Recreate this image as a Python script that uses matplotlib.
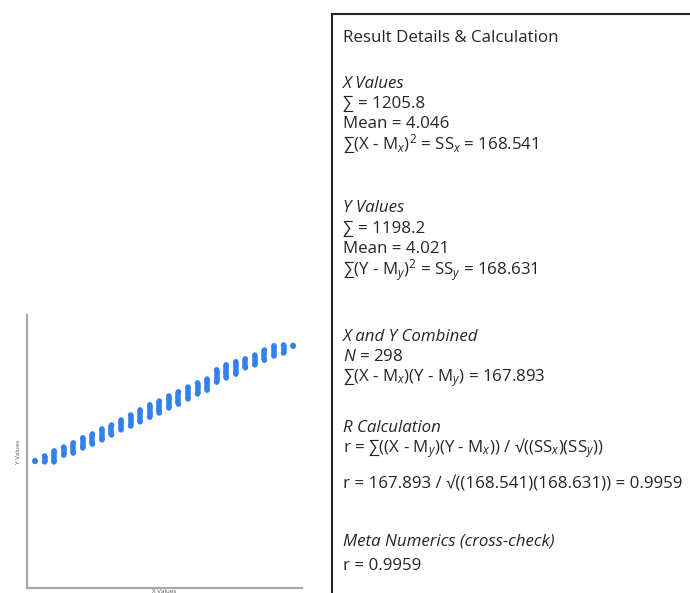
import matplotlib
matplotlib.use('Agg')
import matplotlib.pyplot as plt
from matplotlib.patches import Rectangle

# Columnas del diagrama de dispersión (valores X discretos)
x_vals = [2.7, 2.8, 2.9, 3.0, 3.1, 3.2, 3.3, 3.4, 3.5, 3.6, 3.7, 3.8, 3.9, 4.0,
          4.1, 4.2, 4.3, 4.4, 4.5, 4.6, 4.7, 4.8, 4.9, 5.0, 5.1, 5.2, 5.3, 5.4]
# Rango vertical de los puntos en cada columna
y_low = [2.69, 2.68, 2.68, 2.84, 2.89, 3.01, 3.10, 3.20, 3.32, 3.44, 3.53, 3.63, 3.74, 3.84,
         3.96, 4.05, 4.17, 4.29, 4.38, 4.57, 4.67, 4.76, 4.91, 4.98, 5.09, 5.19, 5.26, 5.42]
y_high = [2.71, 2.82, 2.94, 3.03, 3.13, 3.25, 3.34, 3.46, 3.55, 3.67, 3.79, 3.91, 4.03, 4.12,
          4.24, 4.34, 4.45, 4.55, 4.64, 4.86, 4.98, 5.05, 5.12, 5.21, 5.33, 5.43, 5.45, 5.44]

# Texto del recuadro de resultados
lineas = [
    ("Result Details & Calculation", 'normal'),
    ("X Values", 'italic'),
    ("∑ = 1205.8", 'normal'),
    ("Mean = 4.046", 'normal'),
    ("∑(X - M$_x$)$^2$ = SS$_x$ = 168.541", 'normal'),
    ("Y Values", 'italic'),
    ("∑ = 1198.2", 'normal'),
    ("Mean = 4.021", 'normal'),
    ("∑(Y - M$_y$)$^2$ = SS$_y$ = 168.631", 'normal'),
    ("X and Y Combined", 'italic'),
    ("$N$ = 298", 'normal'),
    ("∑(X - M$_x$)(Y - M$_y$) = 167.893", 'normal'),
    ("R Calculation", 'italic'),
    ("r = ∑((X - M$_y$)(Y - M$_x$)) / √((SS$_x$)(SS$_y$))", 'normal'),
    ("r = 167.893 / √((168.541)(168.631)) = 0.9959", 'normal'),
    ("Meta Numerics (cross-check)", 'italic'),
    ("r = 0.9959", 'normal'),
]
y_lineas = [38, 84, 104, 124, 144, 208, 229, 249, 270,
            337, 357, 378, 428, 448, 484, 542, 566]

plt.rcParams['font.family'] = ['Open Sans', 'DejaVu Sans']
plt.rcParams['mathtext.fontset'] = 'custom'
plt.rcParams['mathtext.rm'] = 'Open Sans'
plt.rcParams['mathtext.it'] = 'Open Sans:italic'

W, H = 690, 593
fig = plt.figure(figsize=(W / 100, H / 100), dpi=100)

# Ejes del diagrama
ax = fig.add_axes([27 / W, 1 - 588 / H, (302 - 27) / W, (588 - 315) / H])
azul = '#3382ec'
ax.vlines(x_vals, y_low, y_high, colors=azul, linewidth=4)
ax.scatter(x_vals, y_low, s=16, color=azul, edgecolors='none', zorder=3)
ax.scatter(x_vals, y_high, s=16, color=azul, edgecolors='none', zorder=3)
ax.set_xlim(2.616, 5.493)
ax.set_ylim(-0.31, 6.16)
ax.set_xticks([])
ax.set_yticks([])
for s in ['top', 'right']:
    ax.spines[s].set_visible(False)
for s in ['left', 'bottom']:
    ax.spines[s].set_color('#a8a8a8')
    ax.spines[s].set_linewidth(1.6)
ax.set_ylabel('Y Values', fontsize=4.5, color='#555555', labelpad=4)
ax.set_xlabel('X Values', fontsize=4.5, color='#555555', labelpad=1)

# Recuadro con los cálculos
fig.patches.append(Rectangle((332 / W, -0.05), 0.6, 1 - 14 / H + 0.05, transform=fig.transFigure,
                             fill=False, edgecolor='#222222', linewidth=1.5))
for (txt, estilo), yp in zip(lineas, y_lineas):
    fig.text(343 / W, 1 - yp / H, txt, fontsize=12.2, style=estilo, color='#262626',
             va='center', ha='left')

fig.savefig('out.png', dpi=100)
